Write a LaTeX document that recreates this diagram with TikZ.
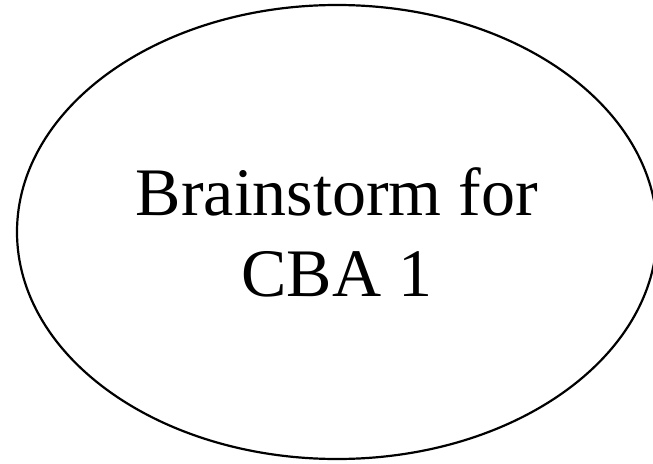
\documentclass[tikz,border=0pt]{standalone}
\usepackage{fontspec}
\setmainfont{Liberation Serif}
\usetikzlibrary{shapes.geometric}
\tikzset{
  bubble/.style={ellipse, draw=black, line width=2.2pt, minimum width=640pt,
      minimum height=454pt, inner sep=0pt, align=center,
      font=\fontsize{68}{81}\selectfont},
}
\begin{document}
\begin{tikzpicture}[x=1pt,y=-1pt]
\useasboundingbox (0,0) rectangle (653,463);
\clip (0,0) rectangle (653,463);
%---- the bubble
\node[bubble] (cba) at (337,232) {Brainstorm for\\CBA 1};
\end{tikzpicture}
\end{document}
